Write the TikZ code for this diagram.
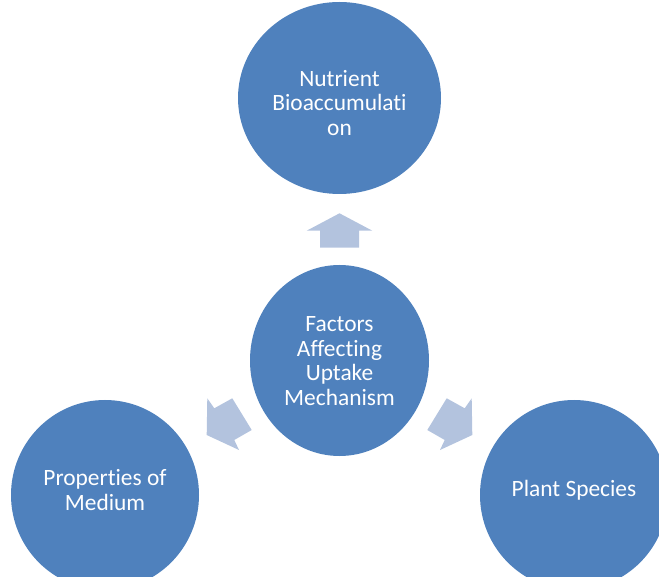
\documentclass[tikz,border=0pt]{standalone}
\usepackage{fontspec}
\setmainfont{Carlito}[Ligatures={NoCommon}, RawFeature={-liga;-clig}]
\usetikzlibrary{shapes.geometric}
\definecolor{bubbleblue}{HTML}{4F81BD}
\definecolor{arrowblue}{HTML}{B3C3DE}
\tikzset{
  bubble/.style={ellipse, fill=bubbleblue, draw=none, inner sep=0pt},
  bubbletext/.style={text=white, align=center, inner sep=0pt, font=\fontsize{23.4}{24.6}\selectfont},
  blockarrow/.style={fill=arrowblue, draw=none}
}
\begin{document}
\begin{tikzpicture}[x=1pt,y=-1pt]
\useasboundingbox (0,0) rectangle (659,577);
% circles
\node[bubble, minimum width=203pt, minimum height=192pt] (top) at (339.5,98) {};
\node[bubble, minimum width=179pt, minimum height=191pt] (mid) at (339.5,360.5) {};
\node[bubble, minimum width=188pt, minimum height=190pt] (left) at (105,495) {};
\node[bubble, minimum width=188pt, minimum height=190pt] (right) at (574,495) {};
% texts
\node[bubbletext] (toptext) at (339.5,103) {Nutrient\\Bioaccumulati\\on};
\node[bubbletext] (midtext) at (339.5,361) {Factors\\Affecting\\Uptake\\Mechanism};
\node[bubbletext] (lefttext) at (105,490) {Properties of\\Medium};
\node[bubbletext] (righttext) at (574,490.5) {Plant Species};
% arrows
\fill[blockarrow] (339.5,213.3) -- (372.3,230.7) -- (359,230.7) -- (359,247.7)
  -- (320,247.7) -- (320,230.7) -- (306.7,230.7) -- cycle;
\fill[blockarrow] (206.7,435) -- (239,450) -- (234.3,440) -- (251.7,430)
  -- (232.3,398.3) -- (214.3,408.3) -- (207.3,398.3) -- cycle;
\fill[blockarrow] (472.3,435) -- (440,450) -- (444.7,440) -- (427.3,430)
  -- (446.7,398.3) -- (464.7,408.3) -- (471.7,398.3) -- cycle;
\end{tikzpicture}
\end{document}
